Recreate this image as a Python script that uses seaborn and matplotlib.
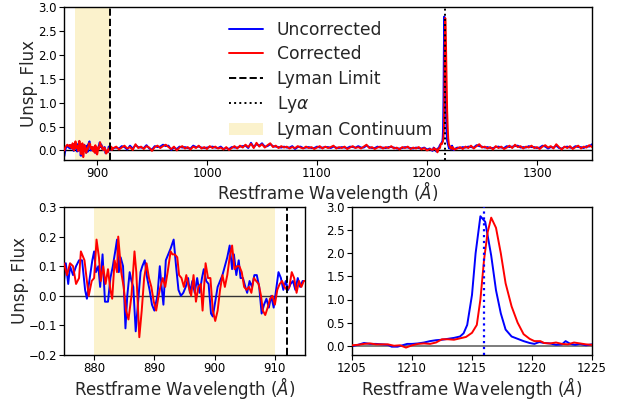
import numpy as np
import pandas as pd
import matplotlib
matplotlib.use("Agg")
import matplotlib.pyplot as plt
import seaborn as sns
from matplotlib.patches import Patch
from matplotlib.lines import Line2D

# ---------------- data ----------------
# Edge of spectrum (870-875 A)
edge_wl = [870.3, 871.5, 873.0, 874.2]
edge_unc = [-0.12, 0.04, 0.10, 0.06]
edge_cor = [0.00, 0.08, 0.12, 0.09]

# Lyman continuum region (875-915 A)
lc_wl_unc = [875.0, 875.3, 875.7, 876.0, 876.5, 877.0, 877.5, 878.0, 878.5, 878.8,
             879.2, 879.7, 880.0, 880.3, 880.7, 881.0, 881.4, 881.8, 882.3, 882.7,
             883.1, 883.5, 883.8, 884.1, 884.4, 884.8, 885.2, 885.5, 885.9, 886.2,
             886.5, 886.9, 887.3, 887.7, 888.0, 888.4, 888.8, 889.2, 889.6, 890.0,
             890.5, 890.9, 891.2, 891.5, 891.9, 892.3, 892.7, 893.2, 893.6, 894.0,
             894.4, 894.8, 895.2, 895.6, 895.9, 896.3, 896.7, 897.1, 897.5, 897.9,
             898.2, 898.6, 899.0, 899.4, 899.7, 900.1, 900.5, 900.9, 901.3, 901.7,
             902.1, 902.5, 902.9, 903.2, 903.6, 904.0, 904.3, 904.7, 905.1, 905.4,
             905.8, 906.2, 906.6, 907.0, 907.4, 907.8, 908.2, 908.6, 909.0, 909.4,
             909.8, 910.2, 910.6, 911.0, 911.4, 911.8, 912.2, 912.6, 913.0, 913.4,
             913.8, 914.2, 914.6, 915.0]
lc_unc = [0.05, 0.11, 0.04, 0.10, 0.07, 0.10, 0.12, 0.12, 0.02, -0.01,
          0.05, 0.12, 0.15, 0.08, 0.10, 0.03, 0.14, -0.02, -0.02, 0.06,
          0.10, 0.15, 0.19, 0.08, 0.13, 0.10, -0.11, 0.00, 0.08, 0.05,
          0.03, -0.12, -0.02, 0.08, 0.10, 0.12, 0.06, 0.02, -0.03, -0.05,
          0.00, 0.10, 0.03, -0.03, 0.12, 0.14, 0.16, 0.19, 0.10, 0.02,
          0.00, 0.01, 0.03, 0.06, 0.01, 0.05, 0.01, 0.06, 0.01, 0.06,
          0.09, 0.05, 0.04, -0.06, -0.07, -0.02, 0.03, 0.05, 0.07, 0.10,
          0.13, 0.17, 0.09, 0.14, 0.07, 0.12, 0.06, 0.06, 0.03, 0.01,
          0.05, 0.03, 0.07, 0.07, 0.03, -0.06, -0.03, -0.01, -0.04, 0.00,
          -0.04, 0.02, 0.08, 0.06, 0.02, 0.05, 0.02, 0.04, 0.05, 0.02,
          0.06, 0.03, 0.05, 0.05]

lc_wl_cor = [875.0, 875.5, 876.0, 876.5, 877.0, 877.5, 877.8, 878.4, 878.8, 879.1,
             879.6, 880.0, 880.4, 880.8, 881.1, 881.5, 881.9, 882.3, 882.7, 883.0,
             883.4, 883.8, 884.0, 884.5, 884.9, 885.3, 885.7, 886.2, 886.7, 887.0,
             887.5, 887.9, 888.3, 888.7, 889.1, 889.5, 889.9, 890.3, 890.7, 891.0,
             891.4, 891.8, 892.2, 892.7, 893.0, 893.4, 893.8, 894.1, 894.5, 894.9,
             895.3, 895.7, 896.1, 896.5, 896.9, 897.3, 897.7, 898.0, 898.5, 898.9,
             899.3, 899.7, 900.1, 900.5, 900.9, 901.3, 901.7, 902.1, 902.5, 902.9,
             903.3, 903.7, 904.1, 904.5, 904.9, 905.3, 905.7, 906.1, 906.5, 906.9,
             907.3, 907.7, 908.0, 908.4, 908.8, 909.2, 909.6, 910.0, 910.4, 910.8,
             911.2, 911.6, 912.0, 912.4, 912.8, 913.2, 913.6, 914.0, 914.4, 914.8,
             915.0]
lc_cor = [0.11, 0.07, 0.11, 0.10, 0.04, 0.06, 0.15, 0.12, 0.05, 0.00,
          0.05, 0.06, 0.19, 0.13, 0.05, 0.10, 0.04, 0.09, 0.02, -0.01,
          0.12, 0.08, 0.20, 0.08, 0.03, -0.05, -0.08, 0.00, 0.15, 0.08,
          -0.14, -0.05, 0.06, 0.11, 0.06, 0.03, -0.02, -0.05, 0.00, 0.03,
          0.06, 0.03, 0.08, 0.15, 0.14, 0.14, 0.13, 0.07, 0.06, 0.03,
          0.07, 0.03, 0.00, 0.07, -0.02, 0.03, 0.04, -0.05, 0.11, 0.06,
          0.06, -0.05, -0.085, -0.05, 0.02, 0.07, 0.03, 0.07, 0.13, 0.17,
          0.09, 0.10, 0.10, 0.08, 0.03, 0.02, 0.03, 0.01, 0.06, 0.05,
          0.04, 0.00, -0.05, -0.065, -0.04, -0.01, 0.00, -0.03, 0.02, 0.04,
          0.05, 0.03, 0.02, 0.03, 0.08, 0.06, 0.01, 0.05, 0.03, 0.05,
          0.05]

# Middle continuum (915-1205 A), step 2.5 A
mid_start, mid_step = 915.0, 2.5
mid_unc = [0.05, 0.06, 0.04, 0.09, 0.07, 0.02, 0.10, 0.04, 0.11, 0.07,
           0.06, 0.05, 0.11, 0.04, 0.02, 0.09, 0.07, 0.08, 0.12, 0.09,
           0.10, 0.01, 0.06, 0.03, 0.08, 0.06, 0.07, 0.05, 0.04, 0.10,
           0.07, 0.08, 0.06, 0.05, 0.06, 0.07, 0.08, 0.06, 0.05, 0.08,
           0.03, 0.05, 0.03, 0.07, 0.06, 0.06, 0.08, 0.09, 0.10, 0.05,
           0.16, 0.07, 0.13, 0.10, 0.15, 0.08, 0.09, 0.13, 0.09, 0.08,
           0.07, 0.06, 0.08, 0.06, 0.06, 0.09, 0.03, 0.07, 0.08, 0.05,
           0.06, 0.07, 0.05, 0.05, 0.08, 0.06, 0.06, 0.07, 0.07, 0.05,
           0.08, 0.06, 0.05, 0.07, 0.06, 0.05, 0.08, 0.07, 0.06, 0.09,
           0.06, 0.06, 0.10, 0.07, 0.05, 0.05, 0.08, 0.06, 0.06, 0.05,
           0.07, 0.07, 0.06, 0.04, 0.04, 0.05, 0.07, 0.06, 0.05, 0.04,
           0.06, 0.05, 0.04, 0.06, 0.02, 0.04]
mid_cor = [0.03, 0.08, 0.02, 0.06, 0.10, 0.04, 0.07, 0.01, 0.13, 0.05,
           0.08, 0.03, 0.09, 0.06, -0.01, 0.07, 0.10, 0.05, 0.09, 0.12,
           0.07, 0.03, 0.08, 0.00, 0.06, 0.09, 0.04, 0.07, 0.02, 0.08,
           0.05, 0.10, 0.04, 0.07, 0.03, 0.09, 0.05, 0.08, 0.04, 0.06,
           0.02, 0.07, 0.01, 0.05, 0.09, 0.04, 0.10, 0.06, 0.12, 0.07,
           0.14, 0.05, 0.16, 0.08, 0.13, 0.06, 0.11, 0.15, 0.07, 0.10,
           0.05, 0.09, 0.06, 0.08, 0.04, 0.07, 0.05, 0.09, 0.06, 0.04,
           0.08, 0.05, 0.07, 0.03, 0.06, 0.09, 0.04, 0.08, 0.05, 0.07,
           0.10, 0.04, 0.07, 0.05, 0.08, 0.03, 0.06, 0.09, 0.05, 0.07,
           0.04, 0.08, 0.12, 0.05, 0.07, 0.03, 0.06, 0.08, 0.04, 0.07,
           0.05, 0.09, 0.04, 0.06, 0.02, 0.07, 0.05, 0.08, 0.03, 0.06,
           0.04, 0.07, 0.02, 0.05, 0.00, 0.03]

# Lyman alpha region (1205-1225 A)
la_wl_unc = [1205.0, 1205.5, 1206.0, 1206.5, 1207.0, 1207.5, 1208.0, 1208.3, 1208.8, 1209.2,
             1209.6, 1210.0, 1210.5, 1211.0, 1211.5, 1212.0, 1212.5, 1213.0, 1213.5, 1214.0,
             1214.3, 1214.6, 1215.0, 1215.3, 1215.7, 1216.1, 1216.6, 1217.0, 1217.4, 1217.8,
             1218.3, 1218.8, 1219.3, 1219.8, 1220.2, 1220.6, 1221.0, 1221.5, 1222.0, 1222.5,
             1222.8, 1223.2, 1223.6, 1224.0, 1224.5, 1225.0]
la_unc = [-0.01, 0.02, 0.06, 0.04, 0.04, 0.03, 0.02, -0.02, -0.02, 0.01,
          0.04, 0.04, 0.05, 0.07, 0.10, 0.12, 0.13, 0.15, 0.17, 0.20,
          0.27, 0.45, 1.10, 2.00, 2.80, 2.68, 1.95, 1.20, 0.70, 0.35,
          0.20, 0.15, 0.10, 0.06, 0.04, 0.08, 0.06, 0.05, 0.02, 0.03,
          0.10, 0.04, 0.02, 0.04, 0.01, 0.03]
la_wl_cor = [1205.0, 1205.5, 1206.0, 1206.5, 1207.0, 1207.5, 1208.0, 1208.5, 1209.0, 1209.5,
             1210.0, 1210.5, 1211.0, 1211.5, 1212.0, 1212.5, 1213.0, 1213.5, 1214.0, 1214.5,
             1215.0, 1215.4, 1215.7, 1216.0, 1216.3, 1216.6, 1217.0, 1217.4, 1217.8, 1218.3,
             1218.8, 1219.3, 1219.8, 1220.2, 1220.7, 1221.0, 1221.5, 1222.0, 1222.5, 1223.0,
             1223.5, 1224.0, 1224.5, 1225.0]
la_cor = [0.01, 0.02, 0.04, 0.05, 0.03, 0.03, 0.03, 0.00, 0.01, -0.04,
          0.01, 0.04, 0.05, 0.04, 0.07, 0.14, 0.14, 0.13, 0.16, 0.19,
          0.28, 0.45, 1.00, 1.85, 2.45, 2.77, 2.55, 2.00, 1.35, 0.85,
          0.50, 0.25, 0.15, 0.10, 0.10, 0.06, 0.05, 0.07, 0.04, 0.03,
          0.07, 0.05, 0.03, 0.02]

# Red continuum (1227.5-1350 A), step 2.5 A
red_start, red_step = 1227.5, 2.5
red_unc = [0.06, 0.05, 0.07, 0.06, 0.08, 0.07, 0.06, 0.11, 0.09, 0.08,
           0.06, 0.07, 0.05, 0.05, 0.07, 0.08, 0.06, 0.05, 0.09, 0.07,
           0.08, 0.09, 0.10, 0.06, 0.07, 0.06, 0.09, 0.07, 0.07, 0.05,
           0.06, 0.10, 0.08, 0.04, 0.07, 0.06, 0.10, 0.05, 0.04, 0.07,
           0.08, 0.06, 0.05, 0.09, 0.07, 0.07, 0.05, 0.09, 0.08, 0.13]
red_cor = [0.04, 0.07, 0.03, 0.08, 0.05, 0.10, 0.04, 0.09, 0.13, 0.06,
           0.08, 0.04, 0.07, 0.02, 0.09, 0.05, 0.08, 0.03, 0.06, 0.10,
           0.05, 0.12, 0.07, 0.09, 0.04, 0.08, 0.06, 0.10, 0.05, 0.07,
           0.03, 0.08, 0.11, 0.06, 0.09, 0.04, 0.13, 0.07, 0.02, 0.08,
           0.05, 0.09, 0.03, 0.07, 0.10, 0.04, 0.08, 0.06, 0.11, 0.07]

lyman_limit = 912.0
lya = 1216.0
lc_band_top = (880.0, 911.5)
lc_band_zoom = (880.0, 910.0)

# ---------------- assemble ----------------
mid_wl = list(mid_start + mid_step * np.arange(len(mid_unc)))
red_wl = list(red_start + red_step * np.arange(len(red_unc)))

unc_df = pd.DataFrame({
    "wl": edge_wl + lc_wl_unc + mid_wl[1:] + la_wl_unc + red_wl,
    "flux": edge_unc + lc_unc + mid_unc[1:] + la_unc + red_unc})
cor_df = pd.DataFrame({
    "wl": edge_wl + lc_wl_cor + mid_wl[1:] + la_wl_cor + red_wl,
    "flux": edge_cor + lc_cor + mid_cor[1:] + la_cor + red_cor})
unc_df = unc_df.sort_values("wl").reset_index(drop=True)
cor_df = cor_df.sort_values("wl").reset_index(drop=True)

# ---------------- plotting ----------------
sns.set_theme(style="ticks")
plt.rcParams["font.family"] = ["DejaVu Sans"]
plt.rcParams["mathtext.fontset"] = "dejavusans"
plt.rcParams["xtick.labelsize"] = 8.5
plt.rcParams["ytick.labelsize"] = 8.5
plt.rcParams["axes.edgecolor"] = "black"
plt.rcParams["axes.linewidth"] = 1.0
plt.rcParams["xtick.color"] = "black"
plt.rcParams["ytick.color"] = "black"

fig = plt.figure(figsize=(6.29, 4.01), dpi=100)
W, H = 629.0, 401.0
ax_top = fig.add_axes([64 / W, 1 - 160 / H, (592 - 64) / W, (160 - 7) / H])
ax_bl = fig.add_axes([64 / W, 1 - 355 / H, (305 - 64) / W, (355 - 207) / H])
ax_br = fig.add_axes([352 / W, 1 - 355 / H, (592 - 352) / W, (355 - 207) / H])

xlabel = r"Restframe Wavelength ($\AA$)"
shade = "#fbf2cc"
lw = 1.4
lab_fs = 12.0

# Top panel
ax_top.axvspan(*lc_band_top, color=shade, lw=0, zorder=0)
ax_top.axhline(0, color="black", lw=1.0, zorder=1)
sns.lineplot(data=unc_df, x="wl", y="flux", ax=ax_top, color="blue", lw=lw,
             sort=False, estimator=None, zorder=2)
sns.lineplot(data=cor_df, x="wl", y="flux", ax=ax_top, color="red", lw=lw,
             sort=False, estimator=None, zorder=3)
ax_top.axvline(lyman_limit, color="black", ls="--", lw=1.4, zorder=4)
ax_top.axvline(lya, color="black", ls=":", lw=1.4, zorder=4)
ax_top.set_xlim(870, 1350)
ax_top.set_ylim(-0.2, 3.0)
ax_top.set_yticks(np.arange(0, 3.01, 0.5))
ax_top.set_xticks([900, 1000, 1100, 1200, 1300])
ax_top.set_xlabel(xlabel, fontsize=lab_fs, labelpad=-0.5)
ax_top.set_ylabel("Unsp. Flux", fontsize=lab_fs, labelpad=0)

handles = [Line2D([], [], color="blue", lw=lw),
           Line2D([], [], color="red", lw=lw),
           Line2D([], [], color="black", ls="--", lw=1.4),
           Line2D([], [], color="black", ls=":", lw=1.4),
           Patch(facecolor=shade, edgecolor="none")]
labels = ["Uncorrected", "Corrected", "Lyman Limit", r"Ly$\alpha$", "Lyman Continuum"]
ax_top.legend(handles, labels, loc="upper center", bbox_to_anchor=(0.505, 0.985),
              frameon=False, fontsize=12.3, handlelength=2.0,
              labelspacing=0.36, borderaxespad=0.3)

# Bottom-left panel
zl_unc = unc_df[(unc_df.wl >= 874) & (unc_df.wl <= 916)]
zl_cor = cor_df[(cor_df.wl >= 874) & (cor_df.wl <= 916)]
ax_bl.axvspan(*lc_band_zoom, color=shade, lw=0, zorder=0)
ax_bl.axhline(0, color="#333333", lw=1.0, zorder=1)
sns.lineplot(data=zl_unc, x="wl", y="flux", ax=ax_bl, color="blue", lw=lw,
             sort=False, estimator=None, zorder=2)
sns.lineplot(data=zl_cor, x="wl", y="flux", ax=ax_bl, color="red", lw=lw,
             sort=False, estimator=None, zorder=3)
ax_bl.axvline(lyman_limit, color="black", ls="--", lw=1.4, zorder=4)
ax_bl.set_xlim(875, 915)
ax_bl.set_ylim(-0.2, 0.3)
ax_bl.set_yticks(np.arange(-0.2, 0.31, 0.1))
ax_bl.set_xticks([880, 890, 900, 910])
ax_bl.set_xlabel(xlabel, fontsize=lab_fs, labelpad=0)
ax_bl.set_ylabel("Unsp. Flux", fontsize=lab_fs, labelpad=0)

# Bottom-right panel
zr_unc = unc_df[(unc_df.wl >= 1204) & (unc_df.wl <= 1226)]
zr_cor = cor_df[(cor_df.wl >= 1204) & (cor_df.wl <= 1226)]
ax_br.axhline(0, color="#666666", lw=1.2, zorder=1)
sns.lineplot(data=zr_unc, x="wl", y="flux", ax=ax_br, color="blue", lw=lw,
             sort=False, estimator=None, zorder=2)
sns.lineplot(data=zr_cor, x="wl", y="flux", ax=ax_br, color="red", lw=lw,
             sort=False, estimator=None, zorder=3)
ax_br.axvline(lya, color="blue", ls=":", lw=1.6, zorder=4)
ax_br.set_xlim(1205, 1225)
ax_br.set_ylim(-0.2, 3.0)
ax_br.set_yticks(np.arange(0, 3.01, 0.5))
ax_br.set_xticks([1205, 1210, 1215, 1220, 1225])
ax_br.set_xlabel(xlabel, fontsize=lab_fs, labelpad=0)
ax_br.set_ylabel("")

for ax in (ax_top, ax_bl, ax_br):
    ax.tick_params(direction="out", length=3.5, width=0.8, pad=1.5)
    for s in ax.spines.values():
        s.set_visible(True)
        s.set_color("black")

fig.savefig("out.png", dpi=100)
